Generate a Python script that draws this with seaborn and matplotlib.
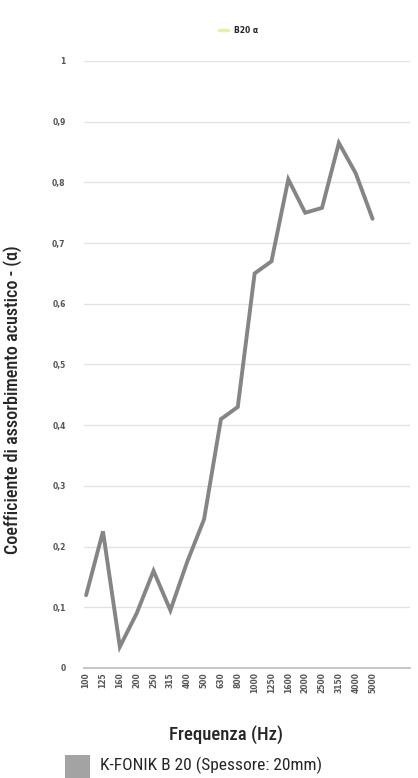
import numpy as np
import pandas as pd
import matplotlib.pyplot as plt
import seaborn as sns
from matplotlib.patches import Rectangle
from matplotlib.lines import Line2D

# data
freqs = ['100', '125', '160', '200', '250', '315', '400', '500', '630', '800',
         '1000', '1250', '1600', '2000', '2500', '3150', '4000', '5000']
alpha = [0.12, 0.225, 0.035, 0.09, 0.16, 0.095, 0.175, 0.245, 0.41, 0.43,
         0.65, 0.67, 0.805, 0.75, 0.758, 0.865, 0.815, 0.74]
yticks = [0, 0.1, 0.2, 0.3, 0.4, 0.5, 0.6, 0.7, 0.8, 0.9, 1]
ytick_labels = ['0', '0,1', '0,2', '0,3', '0,4', '0,5', '0,6', '0,7', '0,8', '0,9', '1']

df = pd.DataFrame({'pos': np.arange(len(freqs)), 'alpha': alpha})

sns.set_style('white')
narrow = ['Roboto Condensed', 'DejaVu Sans']
plt.rcParams['font.family'] = ['DejaVu Sans']

fig = plt.figure(figsize=(4.18, 7.78), dpi=100)
ax = fig.add_axes([0.2, 0.1414, 0.78, 0.7802])

sns.lineplot(data=df, x='pos', y='alpha', ax=ax, color='#858585', linewidth=2.8,
             solid_joinstyle='miter', legend=False)

ax.set_ylim(0, 1)
ax.set_xlim(-0.15, 19.2)
ax.set_yticks(yticks)
ax.set_yticklabels(ytick_labels, fontsize=5.5, color='#555555', fontweight='bold')
ax.set_xticks(np.arange(len(freqs)))
ax.set_xticklabels(freqs, rotation=90, fontsize=5.5, color='#555555', fontweight='bold')
ax.tick_params(axis='y', length=0, pad=13)
ax.tick_params(axis='x', length=0, pad=3)
ax.grid(axis='y', color='#e2e2e2', linewidth=1)
ax.set_axisbelow(True)
for s in ['top', 'right', 'left']:
    ax.spines[s].set_visible(False)
ax.spines['bottom'].set_color('#bbbbbb')
ax.spines['bottom'].set_linewidth(1.2)
ax.set_xlabel('')
ax.set_ylabel('')

# top legend
fig.legend(handles=[Line2D([], [], color='#e4efaa', linewidth=2.5)], labels=['B20 α'],
           loc='center', bbox_to_anchor=(0.57, 0.961), frameon=False, fontsize=5.5,
           handlelength=1.2, handletextpad=0.8, prop={'weight': 'bold', 'size': 5.5})

fig.text(0.03, 0.486, 'Coefficiente di assorbimento acustico - (α)', rotation=90,
         ha='center', va='center', fontsize=13, family=narrow, fontweight='medium')
fig.text(0.54, 0.056, 'Frequenza (Hz)', ha='center', va='center', fontsize=13.5,
         family=narrow, fontweight='medium')

fig.patches.append(Rectangle((0.155, 0.0), 0.06, 0.03, transform=fig.transFigure,
                             facecolor='#a3a3a3', edgecolor='none'))
fig.text(0.24, 0.016, 'K-FONIK B 20 (Spessore: 20mm)', ha='left', va='center',
         fontsize=12.5, family=narrow)

fig.savefig('out.png', dpi=100)
